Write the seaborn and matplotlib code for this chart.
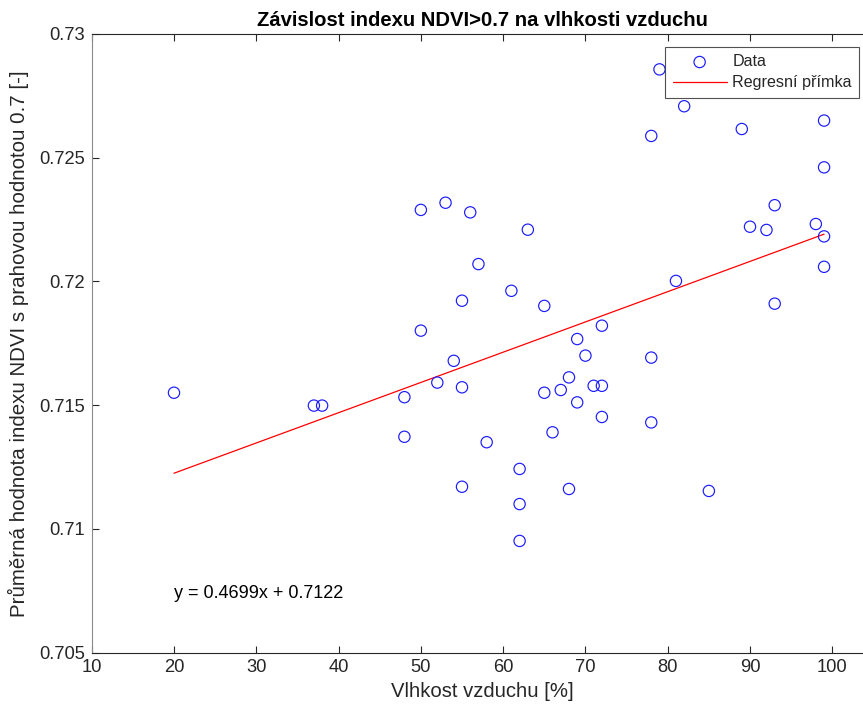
import numpy as np
import pandas as pd
import matplotlib
matplotlib.use("Agg")
import matplotlib.pyplot as plt
from matplotlib.ticker import FuncFormatter
import seaborn as sns

# Relative air humidity [%] and mean NDVI (pixels above threshold 0.7)
humidity = [20, 37, 38, 48, 48, 50, 50, 52, 53, 54, 55, 55, 55, 56, 57, 58,
            61, 62, 62, 62, 63, 65, 65, 66, 67, 68, 68, 69, 69, 70, 71, 72,
            72, 72, 78, 78, 78, 79, 81, 82, 85, 89, 90, 92, 93, 93, 98, 99,
            99, 99, 99]
ndvi = [0.71550, 0.71498, 0.71498, 0.71532, 0.71372, 0.72289, 0.71801,
        0.71591, 0.72318, 0.71679, 0.71922, 0.71572, 0.71170, 0.72279,
        0.72070, 0.71350, 0.71962, 0.71242, 0.71100, 0.70951, 0.72209,
        0.71901, 0.71550, 0.71390, 0.71561, 0.71612, 0.71161, 0.71767,
        0.71511, 0.71700, 0.71578, 0.71578, 0.71821, 0.71452, 0.72588,
        0.71692, 0.71430, 0.72857, 0.72002, 0.72708, 0.71153, 0.72616,
        0.72221, 0.72208, 0.72308, 0.71910, 0.72232, 0.72650, 0.72461,
        0.72182, 0.72059]

equation_text = "y = 0.4699x + 0.7122"
x_ticks = [10, 20, 30, 40, 50, 60, 70, 80, 90, 100]
y_ticks = [0.705, 0.71, 0.715, 0.72, 0.725, 0.73]

df = pd.DataFrame({"humidity": humidity, "ndvi": ndvi})

# least-squares line through the measurements
slope, intercept = np.polyfit(df["humidity"], df["ndvi"], 1)
fit = pd.DataFrame({"humidity": [df["humidity"].min(), df["humidity"].max()]})
fit["ndvi"] = slope * fit["humidity"] + intercept

sns.set_style("ticks")
plt.rcParams["font.family"] = ["Liberation Sans", "DejaVu Sans"]
axis_color = "#262626"

W, H = 863, 706
fig = plt.figure(figsize=(W / 100, H / 100), dpi=100)
fig.patch.set_facecolor("white")

x_lo, x_hi = 10, 105
left_px, top_px, bottom_px = 91.7, 34.0, 652.5
px_per_unit = (832.3 - 91.7) / 90.0
right_px = left_px + (x_hi - x_lo) * px_per_unit
ax = fig.add_axes([left_px / W, 1 - bottom_px / H,
                   (right_px - left_px) / W, (bottom_px - top_px) / H])

sns.scatterplot(data=df, x="humidity", y="ndvi", ax=ax, marker="o", s=66,
                facecolor="none", edgecolor="#1a1aff", linewidth=0.85,
                label="Data", zorder=3)
sns.lineplot(data=fit, x="humidity", y="ndvi", ax=ax, color="#ff0000",
             linewidth=0.9, label="Regresní přímka", zorder=2)

ax.set_xlim(x_lo, x_hi)
ax.set_ylim(0.705, 0.73)
ax.set_xticks(x_ticks)
ax.set_yticks(y_ticks)
ax.yaxis.set_major_formatter(FuncFormatter(lambda v, p: f"{v:g}"))

for s in ax.spines.values():
    s.set_visible(True)
    s.set_color(axis_color)
    s.set_linewidth(0.8)
ax.spines["left"].set_color("#8a8a8a")
ax.tick_params(direction="in", length=5, width=0.8, colors=axis_color,
               labelsize=13.2, top=True, right=True, pad=5)

ax.set_xlabel("Vlhkost vzduchu [%]", fontsize=14.6, color=axis_color, labelpad=4)
ax.set_ylabel("Průměrná hodnota indexu NDVI s prahovou hodnotou 0.7 [-]",
              fontsize=14.8, color=axis_color, labelpad=7)
ax.set_title("Závislost indexu NDVI>0.7 na vlhkosti vzduchu", fontsize=14.6,
             fontweight="bold", color="black", pad=6)

ax.text(20, 0.7074, equation_text, fontsize=13, color="black",
        ha="left", va="center")

leg = ax.legend(loc="upper right", bbox_to_anchor=(859 / W, 1 - 47 / H),
                bbox_transform=fig.transFigure, borderaxespad=0,
                frameon=True, fancybox=False, edgecolor=axis_color,
                fontsize=11.6, handlelength=3.35, borderpad=0.45,
                labelspacing=0.38, handletextpad=0.35)
leg.get_frame().set_linewidth(0.8)

fig.savefig("out.png", dpi=100, facecolor="white")
